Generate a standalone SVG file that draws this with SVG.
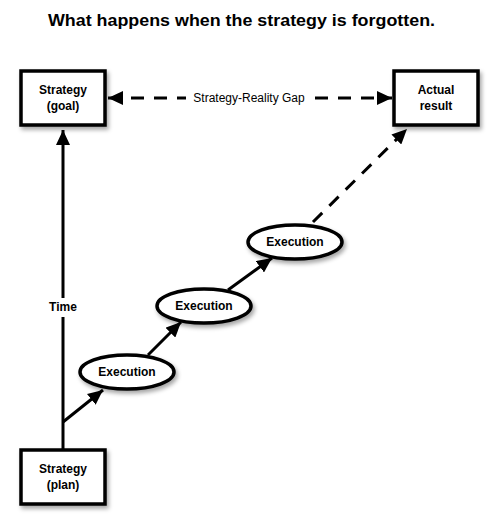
<svg xmlns="http://www.w3.org/2000/svg" width="498" height="529" viewBox="0 0 498 529">
<defs>
<style>
.node{fill:#fff;stroke:#000;stroke-width:3.5}
.lbl{font-family:"Liberation Sans",Arial,sans-serif;font-weight:bold;font-size:12px;text-anchor:middle;fill:#000}
.edge{fill:none;stroke:#000;stroke-width:3}
.dash{stroke-dasharray:13 10}
.elab{font-family:"Liberation Sans",Arial,sans-serif;font-size:12px;text-anchor:middle;fill:#000}
</style>
<filter id="sh" x="-20%" y="-20%" width="150%" height="160%">
<feDropShadow dx="2" dy="3" stdDeviation="2" flood-color="#000" flood-opacity="0.35"/>
</filter>
<marker id="ah" markerUnits="userSpaceOnUse" markerWidth="16" markerHeight="14" refX="15" refY="7" orient="auto-start-reverse" viewBox="0 0 16 14">
<path d="M0,0 L15,7 L0,14 z" fill="#000"/>
</marker>
</defs>
<rect width="498" height="529" fill="#fff"/>
<text x="241.5" y="26" font-family="Liberation Sans,Arial,sans-serif" font-weight="bold" font-size="16.5" text-anchor="middle" textLength="387" lengthAdjust="spacingAndGlyphs">What happens when the strategy is forgotten.</text>
<g id="connectors">
<path class="edge" d="M63,450 L63,130" marker-end="url(#ah)"/>
<rect x="44" y="298" width="38" height="19" fill="#fff"/>
<text class="lbl" x="63" y="311">Time</text>
<path class="edge dash" d="M108,98 L392,98" marker-start="url(#ah)" marker-end="url(#ah)"/>
<rect x="186" y="89" width="127" height="18" fill="#fff"/>
<text class="elab" x="249" y="102">Strategy-Reality Gap</text>
<path class="edge" d="M63,422 L103,390" marker-end="url(#ah)"/>
<path class="edge" d="M148,355 L181,322" marker-end="url(#ah)"/>
<path class="edge" d="M228,290 L272,258" marker-end="url(#ah)"/>
<path class="edge dash" d="M313,222 L407,129" marker-end="url(#ah)"/>
</g>
<g id="goal">
<rect class="node" x="21" y="71" width="84" height="54" filter="url(#sh)"/>
<text class="lbl" x="63" y="94">Strategy</text>
<text class="lbl" x="63" y="110">(goal)</text>
</g>
<g id="actual">
<rect class="node" x="394" y="71" width="84" height="54" filter="url(#sh)"/>
<text class="lbl" x="436" y="94">Actual</text>
<text class="lbl" x="436" y="110">result</text>
</g>
<g id="plan">
<rect class="node" x="21" y="450" width="84" height="54" filter="url(#sh)"/>
<text class="lbl" x="63" y="473">Strategy</text>
<text class="lbl" x="63" y="489">(plan)</text>
</g>
<g id="exec1">
<ellipse class="node" cx="127" cy="372" rx="47" ry="17" filter="url(#sh)"/>
<text class="lbl" x="127" y="376">Execution</text>
</g>
<g id="exec2">
<ellipse class="node" cx="204" cy="306" rx="47" ry="17" filter="url(#sh)"/>
<text class="lbl" x="204" y="310">Execution</text>
</g>
<g id="exec3">
<ellipse class="node" cx="295" cy="242" rx="47" ry="17" filter="url(#sh)"/>
<text class="lbl" x="295" y="246">Execution</text>
</g>
</svg>
